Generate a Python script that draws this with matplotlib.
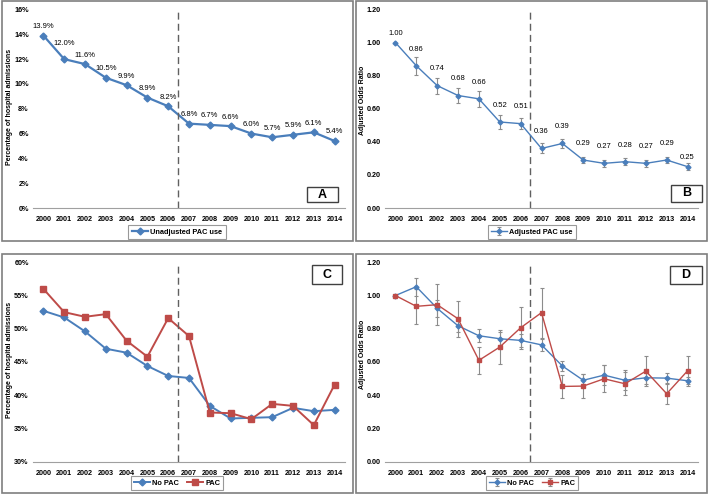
import numpy as np
import matplotlib
matplotlib.use('Agg')
import matplotlib.pyplot as plt
from matplotlib.patches import Rectangle

plt.rcParams['font.family'] = ['Liberation Sans', 'DejaVu Sans']

# data
years = ['2000', '2001', '2002', '2003', '2004', '2005', '2006', '2007',
         '2008', '2009', '2010', '2011', '2012', '2013', '2014']

unadj_pac = [13.9, 12.0, 11.6, 10.5, 9.9, 8.9, 8.2, 6.8, 6.7, 6.6, 6.0, 5.7, 5.9, 6.1, 5.4]

adj_or = [1.00, 0.86, 0.74, 0.68, 0.66, 0.52, 0.51, 0.36, 0.39, 0.29, 0.27, 0.28, 0.27, 0.29, 0.25]
adj_or_err = [0.0, 0.055, 0.048, 0.047, 0.047, 0.04, 0.035, 0.03, 0.03, 0.02, 0.02, 0.02, 0.02, 0.02, 0.02]

nopac_pct = [52.7, 51.7, 49.6, 47.0, 46.4, 44.4, 42.9, 42.6, 38.4, 36.5, 36.6, 36.7, 38.1, 37.6, 37.8]
pac_pct = [56.0, 52.5, 51.8, 52.2, 48.2, 45.8, 51.6, 48.9, 37.4, 37.3, 36.4, 38.7, 38.4, 35.5, 41.6]

nopac_or = [1.00, 1.053, 0.923, 0.818, 0.758, 0.740, 0.730, 0.703, 0.576, 0.490, 0.521, 0.490, 0.505, 0.503, 0.487]
nopac_or_err = [0.0, 0.055, 0.05, 0.04, 0.04, 0.04, 0.04, 0.035, 0.03, 0.04, 0.06, 0.06, 0.04, 0.03, 0.02]
pac_or = [1.00, 0.935, 0.945, 0.860, 0.610, 0.690, 0.806, 0.897, 0.453, 0.455, 0.499, 0.469, 0.545, 0.409, 0.547]
pac_or_err = [0.0, 0.105, 0.125, 0.11, 0.08, 0.10, 0.125, 0.15, 0.07, 0.07, 0.08, 0.07, 0.09, 0.06, 0.09]

W, H = 709, 496
BLUE = '#4A7EBB'
RED = '#BE4B48'
GREY = '#7F7F7F'

fig = plt.figure(figsize=(W / 100, H / 100), dpi=100)


def px_rect(x0, y0, x1, y1):
    return [x0 / W, 1 - y1 / H, (x1 - x0) / W, (y1 - y0) / H]


def frame(x0, y0, x1, y1):
    fig.patches.append(Rectangle((x0 / W, 1 - y1 / H), (x1 - x0) / W, (y1 - y0) / H,
                                 transform=fig.transFigure, fill=False,
                                 edgecolor=GREY, linewidth=1.2))


def letter_box(x0, y0, x1, y1, letter):
    fig.patches.append(Rectangle((x0 / W, 1 - y1 / H), (x1 - x0) / W, (y1 - y0) / H,
                                 transform=fig.transFigure, facecolor='white',
                                 edgecolor='#404040', linewidth=1.0, zorder=5))
    fig.text((x0 + x1) / 2 / W, 1 - (y0 + y1) / 2 / H, letter, ha='center', va='center',
             fontsize=9, fontweight='bold', zorder=6)


def style_axes(ax, ylabel, label_x, label_y):
    x = np.arange(len(years))
    ax.set_xlim(-0.5, len(years) - 0.5)
    ax.set_xticks(x)
    ax.set_xticklabels(years)
    for s in ['top', 'right', 'left']:
        ax.spines[s].set_visible(False)
    ax.spines['bottom'].set_color('#A0A0A0')
    ax.tick_params(axis='both', labelsize=5.2, length=0, pad=3)
    ax.tick_params(axis='x', pad=6)
    for lab in ax.get_xticklabels() + ax.get_yticklabels():
        lab.set_fontweight('bold')
    ax.set_ylabel(ylabel, fontsize=5.0, fontweight='bold')
    ax.yaxis.set_label_coords(label_x, label_y)
    ax.axvline(6.45, color='#606060', linestyle=(0, (5, 3)), linewidth=1.0)


def add_legend(ax, cx, cy):
    leg = ax.legend(loc='center', bbox_to_anchor=(cx / W, 1 - cy / H),
                    bbox_transform=fig.transFigure, ncol=2, fontsize=5.3,
                    frameon=True, fancybox=False, handlelength=2.2,
                    borderpad=0.45, columnspacing=1.0, handletextpad=0.3)
    leg.get_frame().set_edgecolor('#808080')
    leg.get_frame().set_linewidth(0.8)
    for t in leg.get_texts():
        t.set_fontweight('bold')


x = np.arange(len(years))

# frames of the four panels
frame(2, 1, 353, 241)
frame(356, 1, 707, 241)
frame(2, 254, 353, 493)
frame(356, 254, 707, 493)

# ---- A ----
axA = fig.add_axes(px_rect(33, 9.5, 345, 208))
axA.plot(x, unadj_pac, color=BLUE, marker='D', markersize=3.5, linewidth=1.6,
         label='Unadjusted PAC use')
for i, v in enumerate(unadj_pac):
    axA.annotate(f'{v:.1f}%', (i, v), xytext=(0, 11 if i == 1 else 6.5),
                 textcoords='offset points', ha='center', va='center', fontsize=5.5)
axA.set_ylim(0, 16)
axA.set_yticks(np.arange(0, 17, 2))
axA.set_yticklabels([f'{t}%' for t in range(0, 17, 2)])
style_axes(axA, 'Percentage of hospital admissions', -0.064, 0.51)
add_legend(axA, 177, 232)
letter_box(307, 187, 338, 202, 'A')

# ---- B ----
axB = fig.add_axes(px_rect(385, 9.5, 698, 208))
axB.errorbar(x, adj_or, yerr=adj_or_err, color=BLUE, marker='D', markersize=2.5,
             linewidth=1.0, ecolor='#8C8C8C', elinewidth=0.8, capsize=1.5,
             capthick=0.8, label='Adjusted PAC use')
for i, v in enumerate(adj_or):
    off = 6.5 if i in (0, len(adj_or) - 1) else 12
    axB.annotate(f'{v:.2f}', (i, v), xytext=(0, off), textcoords='offset points',
                 ha='center', va='center', fontsize=5.5)
axB.set_ylim(0, 1.2)
axB.set_yticks(np.arange(0, 1.21, 0.2))
axB.set_yticklabels([f'{t:.2f}' for t in np.arange(0, 1.21, 0.2)])
style_axes(axB, 'Adjusted Odds Ratio', -0.061, 0.54)
add_legend(axB, 532, 232)
letter_box(671, 185, 702, 202, 'B')

# ---- C ----
axC = fig.add_axes(px_rect(33, 262.3, 345, 461.7))
axC.plot(x, nopac_pct, color=BLUE, marker='D', markersize=3.5, linewidth=1.4,
         label='No PAC')
axC.plot(x, pac_pct, color=RED, marker='s', markersize=4, linewidth=1.4, label='PAC')
axC.set_ylim(30, 60)
axC.set_yticks(np.arange(30, 61, 5))
axC.set_yticklabels([f'{t}%' for t in range(30, 61, 5)])
style_axes(axC, 'Percentage of hospital admissions', -0.064, 0.51)
add_legend(axC, 177, 483)
letter_box(312, 265, 342, 284, 'C')

# ---- D ----
axD = fig.add_axes(px_rect(385, 262.3, 698, 461.7))
axD.errorbar(x, nopac_or, yerr=nopac_or_err, color=BLUE, marker='D', markersize=2.5,
             linewidth=1.0, ecolor='#8C8C8C', elinewidth=0.8, capsize=1.5,
             capthick=0.8, label='No PAC')
axD.errorbar(x, pac_or, yerr=pac_or_err, color=RED, marker='s', markersize=3,
             linewidth=1.0, ecolor='#8C8C8C', elinewidth=0.8, capsize=1.5,
             capthick=0.8, label='PAC')
axD.set_ylim(0, 1.2)
axD.set_yticks(np.arange(0, 1.21, 0.2))
axD.set_yticklabels([f'{t:.2f}' for t in np.arange(0, 1.21, 0.2)])
style_axes(axD, 'Adjusted Odds Ratio', -0.061, 0.54)
add_legend(axD, 532, 483)
letter_box(670, 266, 702, 284, 'D')

fig.savefig('out.png', dpi=100)
